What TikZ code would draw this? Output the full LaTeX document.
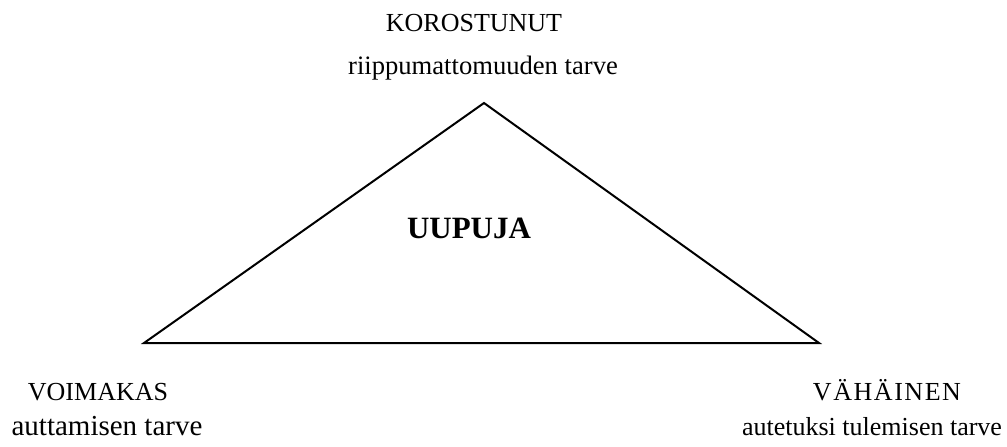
\documentclass[tikz,border=0pt]{standalone}
\usepackage{fontspec}
\setmainfont{Liberation Serif}
\begin{document}
\begin{tikzpicture}[x=1pt,y=-1pt,
  lbl/.style={inner sep=0pt,anchor=base,font=\fontsize{26}{30}\selectfont},
  ttl/.style={inner sep=0pt,anchor=base,font=\fontsize{31}{34}\selectfont\bfseries},
  edge/.style={line width=2pt,line join=miter}]
\useasboundingbox (0,0) rectangle (1007,447);
\coordinate (apex) at (484,103);
\coordinate (left) at (144,343);
\coordinate (right) at (819,343);
\draw[edge] (left) -- (apex) -- (right) -- cycle;
\node[lbl] (kor) at (474,31) {KOROSTUNUT};
\node[lbl,font=\fontsize{26.6}{30}\selectfont] (rii) at (483,74) {riippumattomuuden tarve};
\node[ttl] (uup) at (469,238) {UUPUJA};
\node[lbl] (voi) at (98,400) {VOIMAKAS};
\node[lbl,font=\fontsize{29}{32}\selectfont] (aut) at (107,435) {auttamisen tarve};
\node[lbl,font=\fontsize{26}{30}\selectfont\addfontfeatures{LetterSpace=6}] (vah) at (887,400) {VÄHÄINEN};
\node[lbl] (aute) at (872,435) {autetuksi tulemisen tarve};
\end{tikzpicture}
\end{document}
